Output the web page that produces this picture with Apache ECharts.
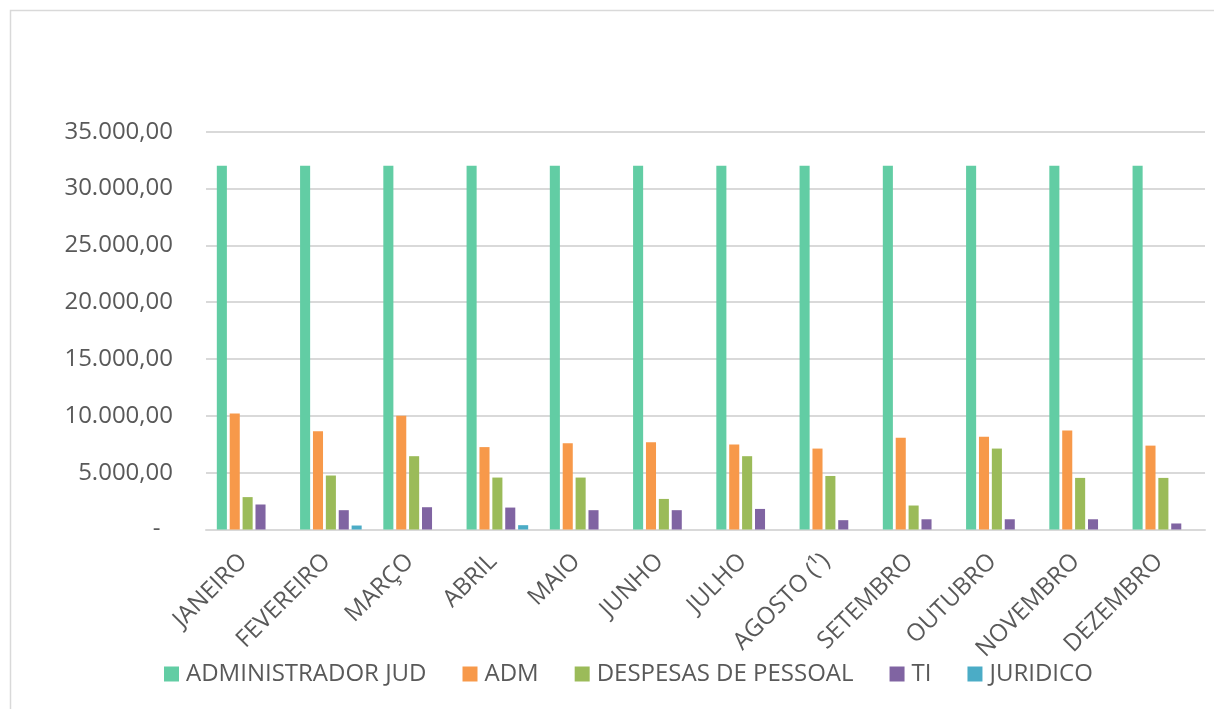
<!DOCTYPE html>
<html>
<head>
<meta charset="utf-8">
<script src="https://cdn.jsdelivr.net/npm/echarts@6/dist/echarts.min.js"></script>
<style>
html,body{margin:0;padding:0;background:#fff;}
#chart{width:1214px;height:709px;}
</style>
</head>
<body>
<div id="chart"></div>
<script>
const categories = ['JANEIRO','FEVEREIRO','MARÇO','ABRIL','MAIO','JUNHO','JULHO','AGOSTO (¹)','SETEMBRO','OUTUBRO','NOVEMBRO','DEZEMBRO'];
const seriesNames = ['ADMINISTRADOR JUD','ADM','DESPESAS DE PESSOAL','TI','JURIDICO'];
const administradorJud = [32000,32000,32000,32000,32000,32000,32000,32000,32000,32000,32000,32000];
const adm = [10200,8650,10000,7250,7580,7670,7470,7120,8080,8170,8720,7380];
const despesasPessoal = [2850,4750,6450,4570,4570,2690,6450,4710,2110,7120,4540,4540];
const ti = [2200,1700,1960,1930,1700,1700,1810,820,900,900,900,530];
const juridico = [0,350,0,380,0,0,0,0,0,0,0,0];
const colors = ['#62CDA4','#F7994A','#9BBB59','#8064A2','#4BACC6'];

const values = [administradorJud, adm, despesasPessoal, ti, juridico];
const fontFamily = '"Open Sans", sans-serif';

function fmt(v){
  if (v === 0) return '-  ';
  return v.toLocaleString('pt-BR',{minimumFractionDigits:2,maximumFractionDigits:2});
}

const chart = echarts.init(document.getElementById('chart'));
chart.setOption({
  animation:false,
  backgroundColor:'#fff',
  graphic:[{
    type:'rect',
    shape:{x:10.5,y:10.5,width:1230,height:730},
    style:{fill:'none',stroke:'#D9D9D9',lineWidth:1.5},
    silent:true
  }],
  grid:{left:206,right:9,top:131.7,bottom:179.5,containLabel:false},
  legend:{
    data:seriesNames,
    left:159,
    top:657,
    itemWidth:15,
    itemHeight:15,
    itemGap:36,
    icon:'rect',
    textStyle:{fontFamily:fontFamily,fontSize:24,color:'#595959',padding:[0,0,0,2]}
  },
  xAxis:{
    type:'category',
    data:categories,
    axisLine:{show:true,lineStyle:{color:'#D9D9D9',width:2}},
    axisTick:{show:false},
    axisLabel:{rotate:45,margin:24,padding:[0,6,0,0],fontFamily:fontFamily,fontSize:24,color:'#595959',interval:0}
  },
  yAxis:{
    type:'value',
    min:0,max:35000,interval:5000,
    axisLine:{show:false},
    axisTick:{show:false},
    splitLine:{lineStyle:{color:'#D9D9D9',width:2}},
    axisLabel:{formatter:fmt,margin:33,fontFamily:fontFamily,fontSize:24,color:'#595959'}
  },
  series: seriesNames.map((n,i)=>({
    name:n,
    type:'bar',
    data:values[i],
    barGap:'28%',
    barCategoryGap:'26%',
    itemStyle:{color:colors[i]}
  }))
});
</script>
</body>
</html>
